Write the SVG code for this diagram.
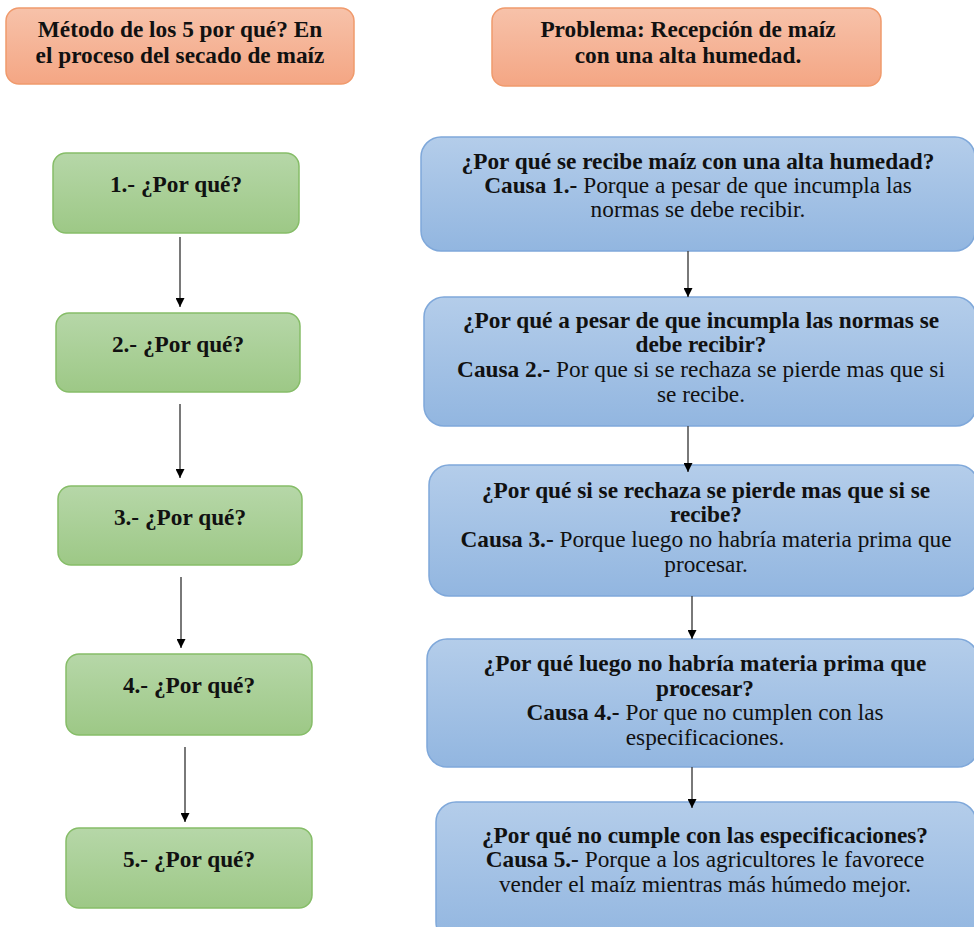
<svg xmlns="http://www.w3.org/2000/svg" width="974" height="927" viewBox="0 0 974 927">
  <defs>
    <linearGradient id="gOrange" x1="0" y1="0" x2="0" y2="1">
      <stop offset="0" stop-color="#f7c2aa"/>
      <stop offset="1" stop-color="#f4a684"/>
    </linearGradient>
    <linearGradient id="gGreen" x1="0" y1="0" x2="0" y2="1">
      <stop offset="0" stop-color="#b6d7a8"/>
      <stop offset="1" stop-color="#9dc886"/>
    </linearGradient>
    <linearGradient id="gBlue" x1="0" y1="0" x2="0" y2="1">
      <stop offset="0" stop-color="#b4cdea"/>
      <stop offset="1" stop-color="#92b6e0"/>
    </linearGradient>
    <marker id="arrow" viewBox="0 0 10 10" refX="10" refY="5" markerWidth="10" markerHeight="9" markerUnits="userSpaceOnUse" orient="auto">
      <path d="M0,0 L10,5 L0,10 Z" fill="#000"/>
    </marker>
  </defs>
  <style>
    .orange { fill: url(#gOrange); stroke: #f09a6c; stroke-width: 1.5; }
    .green { fill: url(#gGreen); stroke: #86bd68; stroke-width: 1.5; }
    .blue { fill: url(#gBlue); stroke: #7fa8da; stroke-width: 1.5; }
    text { font-family: "Liberation Serif", "Times New Roman", serif; font-size: 23.3px; fill: #111; text-anchor: middle; }
    .b { font-weight: bold; }
    .conn line { stroke: #404040; stroke-width: 1.4; marker-end: url(#arrow); }
  </style>

  <rect width="974" height="927" fill="#fff"/>

  <!-- header boxes -->
  <g id="title">
    <rect class="orange" x="6" y="8" width="348" height="76" rx="13"/>
    <text class="b" x="180" y="37">Método de los 5 por qué? En</text>
    <text class="b" x="180" y="63">el proceso del secado de maíz</text>
  </g>
  <g id="problem">
    <rect class="orange" x="492" y="8" width="389" height="78" rx="13"/>
    <text class="b" x="688" y="37">Problema: Recepción de maíz</text>
    <text class="b" x="688" y="63">con una alta humedad.</text>
  </g>

  <!-- left column: the five questions -->
  <g id="why1">
    <rect class="green" x="53" y="153" width="246" height="80" rx="13"/>
    <text class="b" x="176" y="192">1.- ¿Por qué?</text>
  </g>
  <g id="why2">
    <rect class="green" x="56" y="313" width="244" height="79" rx="13"/>
    <text class="b" x="178" y="352">2.- ¿Por qué?</text>
  </g>
  <g id="why3">
    <rect class="green" x="58" y="486" width="244" height="79" rx="13"/>
    <text class="b" x="180" y="525">3.- ¿Por qué?</text>
  </g>
  <g id="why4">
    <rect class="green" x="66" y="654" width="246" height="81" rx="13"/>
    <text class="b" x="189" y="693">4.- ¿Por qué?</text>
  </g>
  <g id="why5">
    <rect class="green" x="66" y="828" width="246" height="80" rx="13"/>
    <text class="b" x="189" y="867">5.- ¿Por qué?</text>
  </g>

  <!-- right column: causes -->
  <g id="cause1">
    <rect class="blue" x="421" y="137" width="554" height="114" rx="20"/>
    <text class="b" x="698" y="169">¿Por qué se recibe maíz con una alta humedad?</text>
    <text x="698" y="193"><tspan class="b">Causa 1.-</tspan> Porque a pesar de que incumpla las</text>
    <text x="698" y="217">normas se debe recibir.</text>
  </g>
  <g id="cause2">
    <rect class="blue" x="424" y="297" width="552" height="129" rx="20"/>
    <text class="b" x="701" y="328">¿Por qué a pesar de que incumpla las normas se</text>
    <text class="b" x="701" y="352">debe recibir?</text>
    <text x="701" y="377"><tspan class="b">Causa 2.-</tspan> Por que si se rechaza se pierde mas que si</text>
    <text x="701" y="402">se recibe.</text>
  </g>
  <g id="cause3">
    <rect class="blue" x="429" y="465" width="549" height="131" rx="20"/>
    <text class="b" x="706" y="498">¿Por qué si se rechaza se pierde mas que si se</text>
    <text class="b" x="706" y="522">recibe?</text>
    <text x="706" y="547"><tspan class="b">Causa 3.-</tspan> Porque luego no habría materia prima que</text>
    <text x="706" y="572">procesar.</text>
  </g>
  <g id="cause4">
    <rect class="blue" x="427" y="639" width="551" height="128" rx="20"/>
    <text class="b" x="705" y="671">¿Por qué luego no habría materia prima que</text>
    <text class="b" x="705" y="696">procesar?</text>
    <text x="705" y="720"><tspan class="b">Causa 4.-</tspan> Por que no cumplen con las</text>
    <text x="705" y="745">especificaciones.</text>
  </g>
  <g id="cause5">
    <rect class="blue" x="436" y="802" width="540" height="140" rx="20"/>
    <text class="b" x="705" y="843">¿Por qué no cumple con las especificaciones?</text>
    <text x="705" y="867"><tspan class="b">Causa 5.-</tspan> Porque a los agricultores le favorece</text>
    <text x="705" y="892">vender el maíz mientras más húmedo mejor.</text>
  </g>

  <!-- connectors -->
  <g class="conn">
    <line x1="180" y1="237" x2="180" y2="307"/>
    <line x1="180" y1="404" x2="180" y2="478"/>
    <line x1="181" y1="577" x2="181" y2="648"/>
    <line x1="185" y1="747" x2="185" y2="822"/>
    <line x1="688" y1="251" x2="688" y2="297"/>
    <line x1="688" y1="426" x2="688" y2="472"/>
    <line x1="692" y1="596" x2="692" y2="639"/>
    <line x1="692" y1="767" x2="692" y2="808"/>
  </g>
</svg>
